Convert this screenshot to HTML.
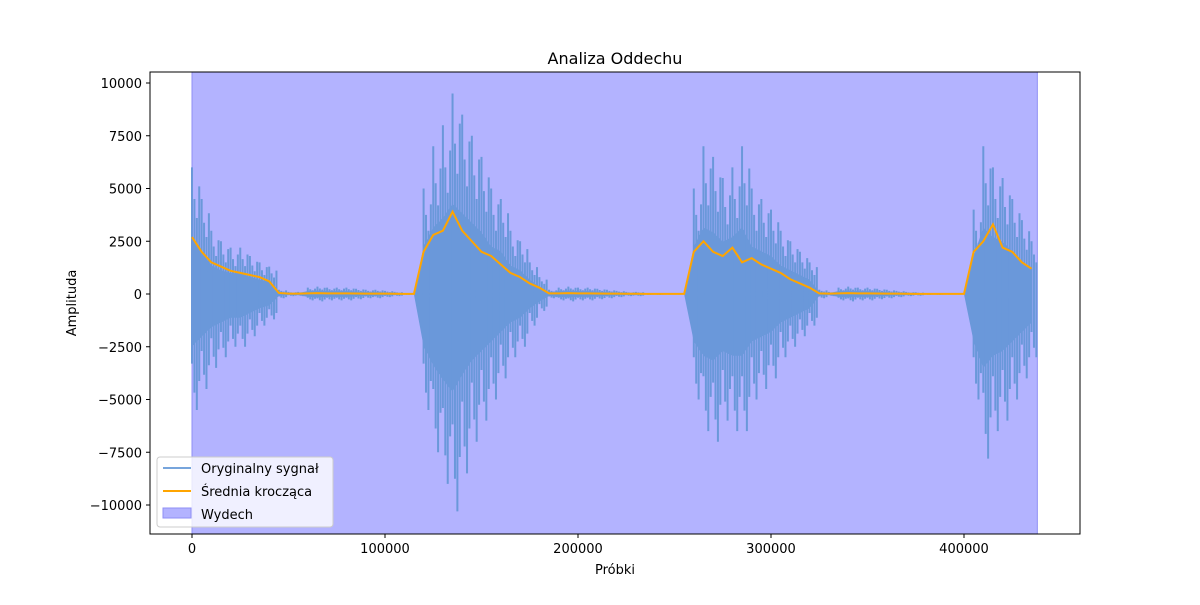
<!DOCTYPE html>
<html><head><meta charset="utf-8"><style>
body{margin:0;background:#fff;font-family:"Liberation Sans","DejaVu Sans",sans-serif}
</style></head><body>
<svg id="chart" width="1200" height="600" xmlns="http://www.w3.org/2000/svg" font-family="DejaVu Sans, Liberation Sans, sans-serif">
<rect width="1200" height="600" fill="#fff"/>
<g id="plot"></g>
<rect x="150" y="72" width="930" height="462" fill="none" stroke="#000" stroke-width="1"/>
<g id="axes" font-size="13" fill="#000"></g>
<text x="615" y="64" text-anchor="middle" font-size="16">Analiza Oddechu</text>
<text x="615" y="574" text-anchor="middle" font-size="13">Próbki</text>
<text x="76" y="303" text-anchor="middle" font-size="13" transform="rotate(-90 76 303)">Amplituda</text>
<g>
<rect x="157" y="457" width="176" height="70" rx="3" fill="#fff" fill-opacity="0.8" stroke="#ccc"/>
<line x1="163" y1="468" x2="191" y2="468" stroke="#77a5dc" stroke-width="2"/>
<text x="201" y="473" font-size="13">Oryginalny sygnał</text>
<line x1="163" y1="491" x2="191" y2="491" stroke="#ffa500" stroke-width="2"/>
<text x="201" y="496" font-size="13">Średnia krocząca</text>
<rect x="163" y="508" width="28" height="10" fill="#b3b3ff" stroke="#8f8ff5"/>
<text x="201" y="519" font-size="13">Wydech</text>
</g>
</svg>
<script>
const xTicks=[0,100000,200000,300000,400000];
const yTicks=[10000,7500,5000,2500,0,-2500,-5000,-7500,-10000];
const exhaleStart=0, exhaleEnd=438000;
const step=5000;
const upper=[6000,4500,3000,2500,2200,2200,1800,1500,1300,200,100,100,300,350,300,300,300,250,200,200,150,100,50,50,5000,7000,8000,9500,8500,7500,6500,5000,4500,3000,2500,1500,800,200,300,350,300,300,250,200,150,100,100,50,50,30,30,30,5000,7000,6500,5500,6000,7000,5000,4500,4000,3000,2500,2000,1500,200,100,300,350,300,300,250,200,150,100,80,50,50,30,30,30,4000,7000,6000,5500,4500,3500,2500];
const lower=[-5500,-4500,-3500,-3000,-2500,-2500,-2000,-1500,-1200,-200,-100,-100,-300,-350,-300,-300,-300,-250,-200,-200,-150,-100,-50,-50,-5500,-7500,-9000,-10300,-8500,-7000,-6000,-5000,-4000,-3000,-2500,-1500,-800,-200,-300,-350,-300,-300,-250,-200,-150,-100,-100,-50,-50,-30,-30,-30,-5000,-6500,-7000,-6000,-6500,-6500,-5000,-4500,-4000,-3000,-2500,-2000,-1500,-200,-100,-300,-350,-300,-300,-250,-200,-150,-100,-80,-50,-50,-30,-30,-30,-5000,-7800,-6500,-6000,-5000,-4000,-3000];
const avg=[2700,2000,1500,1300,1100,1000,900,800,600,50,20,20,30,40,30,30,30,25,20,20,15,10,5,5,2000,2800,3000,3900,3000,2500,2000,1800,1400,1000,800,500,300,30,30,40,30,30,25,20,15,10,10,5,5,3,3,3,2000,2500,2000,1800,2200,1500,1700,1400,1200,1000,700,500,300,30,20,30,40,30,30,25,20,15,10,8,5,5,3,3,3,2000,2500,3300,2200,2000,1500,1200];
const X=v=>192+v*0.00193, Y=v=>294-v*0.0211;
const NS="http://www.w3.org/2000/svg";
const plot=document.getElementById('plot'), axes=document.getElementById('axes');
function mk(t,a,p){const e=document.createElementNS(NS,t);for(const k in a)e.setAttribute(k,a[k]);p.appendChild(e);return e;}
const ex=mk('rect',{x:X(exhaleStart),y:72,width:X(exhaleEnd)-X(exhaleStart),height:462,fill:'#b3b3ff',stroke:'#8f8ff5'},plot);


const frac=[[0,1],[0.25,0.75],[0.5,0.6],[0.75,0.85]];
let d='';
for(let i=0;i<upper.length;i++){
  frac.forEach(([o,f])=>{
    const x=X(i*step+o*step);
    if(i*step+o*step>exhaleEnd)return;
    d+=`M${x} ${Y(upper[i]*f)}L${x} ${Y(lower[i]*(1.6-f))}`;
  });
}
let poly='';
for(let i=0;i<upper.length;i++)poly+=(i?'L':'M')+X(i*step)+' '+Y(upper[i]*0.45);
for(let i=upper.length-1;i>=0;i--)poly+='L'+X(i*step)+' '+Y(lower[i]*0.45);
const sf=mk('path',{d:poly+'Z',fill:'#6a98da'},plot);


const sig=mk('path',{d:d,stroke:'#6a98da','stroke-width':2,fill:'none'},plot);


let ad='';
avg.forEach((v,i)=>{ad+=(i?'L':'M')+X(i*step)+' '+Y(v);});
const al=mk('path',{d:ad,stroke:'#ffa500','stroke-width':2,fill:'none'},plot);


xTicks.forEach(t=>{
  mk('line',{x1:X(t),x2:X(t),y1:534,y2:538,stroke:'#000'},axes);
  const tx=mk('text',{x:X(t),y:553,'text-anchor':'middle'},axes);tx.textContent=t;
  
  
});
yTicks.forEach(t=>{
  mk('line',{x1:146,x2:150,y1:Y(t),y2:Y(t),stroke:'#000'},axes);
  const tx=mk('text',{x:142,y:Y(t)+5,'text-anchor':'end'},axes);tx.textContent=t<0?'−'+(-t):t;
  
  
});
</script>
</body></html>
